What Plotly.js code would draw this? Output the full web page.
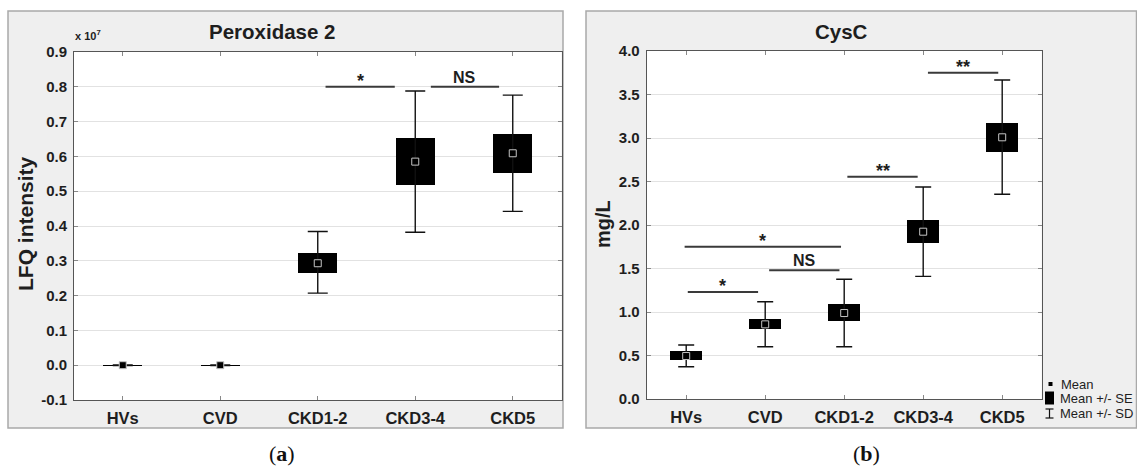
<!DOCTYPE html>
<html>
<head>
<meta charset="utf-8">
<script src="https://cdn.plot.ly/plotly-3.0.1.min.js"></script>
<style>html,body{margin:0;padding:0;background:#fff;}</style>
</head>
<body>
<div id="chart" style="width:1137px;height:468px;"></div>
<script>
// ---------- data ----------
const categories = ['HVs', 'CVD', 'CKD1-2', 'CKD3-4', 'CKD5'];

// Peroxidase 2, LFQ intensity (x 10^7)
const perMean   = [0.000, 0.000, 0.293, 0.585, 0.609];
const perSeLow  = [-0.001, -0.001, 0.266, 0.518, 0.553];
const perSeHigh = [0.001, 0.001, 0.323, 0.652, 0.664];
const perSdLow  = [-0.001, -0.001, 0.207, 0.382, 0.442];
const perSdHigh = [0.001, 0.001, 0.384, 0.788, 0.776];

// CysC, mg/L
const cysMean   = [0.494, 0.858, 0.988, 1.923, 3.008];
const cysSeLow  = [0.448, 0.808, 0.893, 1.790, 2.843];
const cysSeHigh = [0.552, 0.916, 1.092, 2.054, 3.176];
const cysSdLow  = [0.371, 0.601, 0.601, 1.410, 2.353];
const cysSdHigh = [0.620, 1.118, 1.376, 2.437, 3.667];

// y tick labels
const perTickVals = [-0.1, 0, 0.1, 0.2, 0.3, 0.4, 0.5, 0.6, 0.7, 0.8, 0.9];
const perTickText = ['-0.1', '0.0', '0.1', '0.2', '0.3', '0.4', '0.5', '0.6', '0.7', '0.8', '0.9'];
const cysTickVals = [0, 0.5, 1, 1.5, 2, 2.5, 3, 3.5, 4];
const cysTickText = ['0.0', '0.5', '1.0', '1.5', '2.0', '2.5', '3.0', '3.5', '4.0'];

// significance brackets (category index units)
const perSigFrom  = [2.08, 3.16];
const perSigTo    = [2.79, 3.86];
const perSigY     = [0.80, 0.80];
const perSigLabel = ['*', 'NS'];

const cysSigFrom  = [0.02, -0.02, 1.05, 2.04, 3.06];
const cysSigTo    = [0.91, 1.96, 1.94, 2.93, 3.95];
const cysSigY     = [1.23, 1.75, 1.48, 2.555, 3.75];
const cysSigLabel = ['*', '*', 'NS', '**', '**'];

const legendLabels = ['Mean', 'Mean +/- SE', 'Mean +/- SD'];

// ---------- layout helpers ----------
const W = 1137, H = 468;
const px = v => v / W;
const py = v => (H - v) / H;
const FONT = 'Arial, "Liberation Sans", Helvetica, sans-serif';
const TXT = '#1e1e1e';

function sub(a, b) { return a.map((v, i) => v - b[i]); }

function panelTraces(mean, seLow, seHigh, sdLow, sdHigh, xa, ya, capW) {
  return [
    { // SE boxes
      type: 'bar', x: categories, y: sub(seHigh, seLow), base: seLow,
      width: 0.4, marker: { color: '#000', line: { width: 0 } },
      xaxis: xa, yaxis: ya, showlegend: false, hoverinfo: 'skip'
    },
    { // SD whiskers
      type: 'scatter', mode: 'markers', x: categories, y: mean,
      marker: { size: 1, color: 'rgba(0,0,0,0)' },
      error_y: { type: 'data', symmetric: false, array: sub(sdHigh, mean), arrayminus: sub(mean, sdLow),
                 color: '#111', thickness: 1.4, width: capW },
      xaxis: xa, yaxis: ya, showlegend: false, hoverinfo: 'skip'
    },
    { // mean markers
      type: 'scatter', mode: 'markers', x: categories, y: mean,
      marker: { symbol: 'square', size: 7, color: '#000', line: { color: '#c4c4c4', width: 1 } },
      xaxis: xa, yaxis: ya, showlegend: false, hoverinfo: 'skip'
    }
  ];
}

const data = [].concat(
  panelTraces(perMean, perSeLow, perSeHigh, perSdLow, perSdHigh, 'x', 'y', 10),
  panelTraces(cysMean, cysSeLow, cysSeHigh, cysSdLow, cysSdHigh, 'x2', 'y2', 8)
);

function xAxis(domain, anchor) {
  return {
    domain: domain, anchor: anchor, type: 'category', range: [-0.5, 4.5],
    showline: true, linecolor: '#555', linewidth: 1, mirror: 'ticks',
    ticks: 'inside', ticklen: 4, tickcolor: '#888',
    showgrid: false, zeroline: false, fixedrange: true,
    tickfont: { family: FONT, size: 16.5, color: TXT, weight: 'bold' },
    ticklabelstandoff: 3
  };
}
function yAxis(domain, anchor, range, vals, text) {
  return {
    domain: domain, anchor: anchor, range: range,
    tickmode: 'array', tickvals: vals, ticktext: text,
    showline: true, linecolor: '#555', linewidth: 1, mirror: 'ticks',
    ticks: 'inside', ticklen: 4, tickcolor: '#888',
    showgrid: true, gridcolor: '#e2e2e2', gridwidth: 1, zeroline: false, fixedrange: true,
    tickfont: { family: FONT, size: 15, color: TXT, weight: 'bold' },
    ticklabelstandoff: 3
  };
}

const shapes = [
  // panel backgrounds
  { type: 'rect', xref: 'paper', yref: 'paper', layer: 'below', x0: px(8), x1: px(563), y0: py(428), y1: py(11),
    fillcolor: '#efefef', line: { color: '#a9a9a9', width: 1.5 } },
  { type: 'rect', xref: 'paper', yref: 'paper', layer: 'below', x0: px(586), x1: px(1136.5), y0: py(428), y1: py(11),
    fillcolor: '#efefef', line: { color: '#a9a9a9', width: 1.5 } },
  // plot area backgrounds
  { type: 'rect', xref: 'paper', yref: 'paper', layer: 'below', x0: px(74), x1: px(561.5), y0: py(400), y1: py(52),
    fillcolor: '#ffffff', line: { width: 0 } },
  { type: 'rect', xref: 'paper', yref: 'paper', layer: 'below', x0: px(646.7), x1: px(1041.7), y0: py(399), y1: py(51),
    fillcolor: '#ffffff', line: { width: 0 } }
];

const annotations = [];

function addSig(from, to, yv, labels, xr, yr) {
  for (let i = 0; i < from.length; i++) {
    shapes.push({ type: 'line', xref: xr, yref: yr, x0: from[i], x1: to[i], y0: yv[i], y1: yv[i],
                  line: { color: '#3a3a3a', width: 2 }, layer: 'above' });
    const isStar = labels[i].indexOf('*') >= 0;
    annotations.push({ xref: xr, yref: yr, x: (from[i] + to[i]) / 2, y: yv[i],
      xanchor: 'center', yanchor: 'bottom',
      text: labels[i], showarrow: false, yshift: isStar ? -6 : -1,
      font: { family: FONT, size: isStar ? 18 : 16, color: TXT, weight: 'bold' } });
  }
}
addSig(perSigFrom, perSigTo, perSigY, perSigLabel, 'x', 'y');
addSig(cysSigFrom, cysSigTo, cysSigY, cysSigLabel, 'x2', 'y2');

function paperText(x, y, text, font, extra) {
  return Object.assign({ xref: 'paper', yref: 'paper', x: px(x), y: py(y), xanchor: 'center', yanchor: 'middle',
    text: text, showarrow: false, font: font }, extra || {});
}

// titles
annotations.push(
  paperText(272, 32, 'Peroxidase 2', { family: FONT, size: 20.5, color: TXT, weight: 'bold' }),
  paperText(841, 32, 'CysC', { family: FONT, size: 20.5, color: TXT, weight: 'bold' }),
  paperText(88, 35, 'x 10<sup>7</sup>', { family: FONT, size: 11, color: TXT, weight: 'bold' }),
  paperText(26, 224, 'LFQ intensity', { family: FONT, size: 21, color: TXT, weight: 'bold' }, { textangle: -90 }),
  paperText(603, 224, 'mg/L', { family: FONT, size: 20, color: TXT, weight: 'bold' }, { textangle: -90 }),
  paperText(282, 453, '(<b>a</b>)', { family: '"Liberation Serif", "DejaVu Serif", serif', size: 22, color: '#111' }),
  paperText(866, 453, '(<b>b</b>)', { family: '"Liberation Serif", "DejaVu Serif", serif', size: 22, color: '#111' })
);

// custom legend (Mean / SE / SD)
const legY = [384, 398.5, 413.5];
const legX = [1059, 1058, 1058];
for (let i = 0; i < legendLabels.length; i++) {
  annotations.push(paperText(legX[i], legY[i], legendLabels[i], { family: FONT, size: 13, color: TXT },
    { xanchor: 'left' }));
}
shapes.push(
  { type: 'rect', xref: 'paper', yref: 'paper', x0: px(1048.5), x1: px(1052.5), y0: py(386), y1: py(382),
    fillcolor: '#000', line: { width: 0 } },
  { type: 'rect', xref: 'paper', yref: 'paper', x0: px(1045), x1: px(1054), y0: py(404.5), y1: py(391.5),
    fillcolor: '#000', line: { width: 0 } },
  { type: 'line', xref: 'paper', yref: 'paper', x0: px(1049.5), x1: px(1049.5), y0: py(418), y1: py(409),
    line: { color: '#111', width: 1.2 } },
  { type: 'line', xref: 'paper', yref: 'paper', x0: px(1045.5), x1: px(1053.5), y0: py(409), y1: py(409),
    line: { color: '#111', width: 1.2 } },
  { type: 'line', xref: 'paper', yref: 'paper', x0: px(1045.5), x1: px(1053.5), y0: py(418), y1: py(418),
    line: { color: '#111', width: 1.2 } }
);

const layout = {
  width: W, height: H, autosize: false,
  margin: { l: 0, r: 0, t: 0, b: 0, pad: 0 },
  paper_bgcolor: '#ffffff', plot_bgcolor: 'rgba(0,0,0,0)',
  showlegend: false, bargap: 0,
  font: { family: FONT, color: TXT },
  xaxis: xAxis([px(74), px(561.5)], 'y'),
  yaxis: yAxis([py(400), py(52)], 'x', [-0.1, 0.9], perTickVals, perTickText),
  xaxis2: xAxis([px(646.7), px(1041.7)], 'y2'),
  yaxis2: yAxis([py(399), py(51)], 'x2', [0, 4], cysTickVals, cysTickText),
  shapes: shapes,
  annotations: annotations
};

Plotly.newPlot('chart', data, layout, { displayModeBar: false, staticPlot: true });
</script>
</body>
</html>
